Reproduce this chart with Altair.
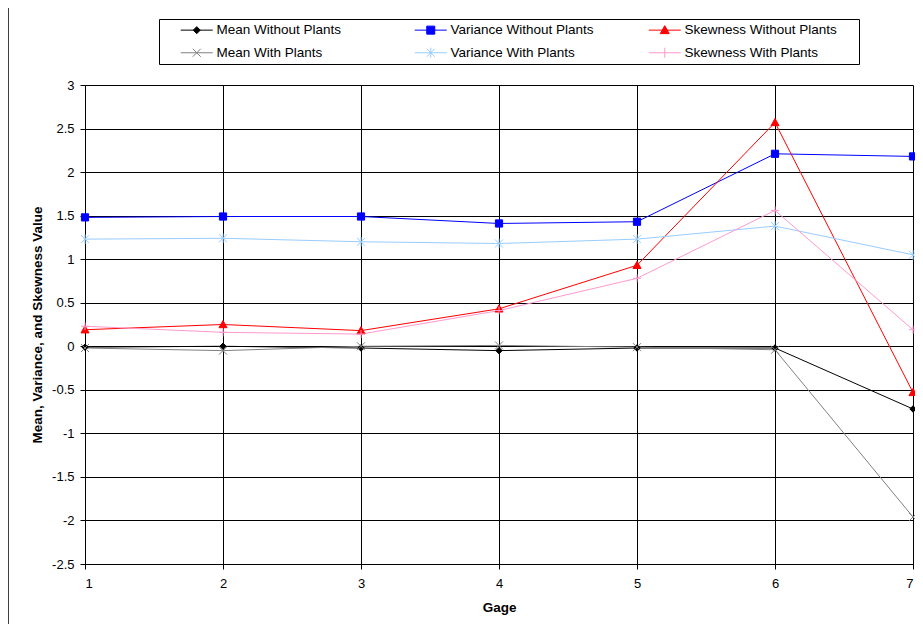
import altair as alt
import pandas as pd

gages = [1, 2, 3, 4, 5, 6, 7]

series_names = [
    "Mean Without Plants", "Variance Without Plants", "Skewness Without Plants",
    "Mean With Plants", "Variance With Plants", "Skewness With Plants",
]
series_colors = ["#000000", "#0000FF", "#FF0000", "#808080", "#99CCFF", "#FF99CC"]

mean_without = [-0.01, 0.00, -0.02, -0.05, -0.02, -0.02, -0.72]
variance_without = [1.48, 1.49, 1.49, 1.41, 1.43, 2.21, 2.18]
skewness_without = [0.19, 0.25, 0.18, 0.43, 0.93, 2.57, -0.53]
mean_with = [-0.02, -0.05, 0.00, 0.01, -0.01, -0.04, -1.96]
variance_with = [1.23, 1.24, 1.20, 1.18, 1.23, 1.38, 1.05]
skewness_with = [0.23, 0.16, 0.14, 0.41, 0.78, 1.56, 0.19]

values = [mean_without, variance_without, skewness_without,
          mean_with, variance_with, skewness_with]

rows = []
for name, vals in zip(series_names, values):
    for g, v in zip(gages, vals):
        rows.append({"Gage": g, "Value": v, "Series": name})
df = pd.DataFrame(rows)

# marker shapes (plot)
marker_paths = [
    "M0,-0.8L0.8,0L0,0.8L-0.8,0Z",            # diamond
    "M-0.9,-0.9H0.9V0.9H-0.9Z",               # square
    "M0,-1L1,0.8L-1,0.8Z",                     # triangle
    "M-1,-1L1,1M-1,1L1,-1",                    # x
    "M-1,-1L1,1M-1,1L1,-1M0,-1.2V1.2",         # asterisk
    "M-1,0H1M0,-1V1",                          # plus
]
# legend symbols: line + marker (leading move only reserves room on the right)
L = "M37.6,0M-3.2,0H3.2"
legend_paths_by_series = [
    L + "M0,-0.7L0.7,0L0,0.7L-0.7,0Z",
    L + "M-0.8,-0.8H0.8V0.8H-0.8Z",
    L + "M0,-0.9L0.9,0.7L-0.9,0.7Z",
    L + "M-0.8,-0.8L0.8,0.8M-0.8,0.8L0.8,-0.8",
    L + "M-0.8,-0.8L0.8,0.8M-0.8,0.8L0.8,-0.8M0,-1V1",
    L + "M0,-1V1",
]
# legend is filled column by column (2 rows x 3 columns)
legend_order = [0, 3, 1, 4, 2, 5]
legend_names = [series_names[i] for i in legend_order]
legend_colors = [series_colors[i] for i in legend_order]
legend_paths = [legend_paths_by_series[i] for i in legend_order]

W, H = 828, 479

x_enc = alt.X("Gage:Q", scale=alt.Scale(domain=[1, 7], nice=False),
              axis=alt.Axis(values=gages, format="d", title="Gage", tickSize=5,
                            labelPadding=8, titlePadding=10))
y_enc = alt.Y("Value:Q", scale=alt.Scale(domain=[-2.5, 3], nice=False),
              axis=alt.Axis(values=[-2.5 + 0.5 * i for i in range(12)],
                            labelExpr="datum.value < 0 ? '-' + format(-datum.value, '.1~f') : format(datum.value, '.1~f')",
                            title="Mean, Variance, and Skewness Value", tickSize=5,
                            labelPadding=6, titlePadding=7))

lines = alt.Chart(df).mark_line(strokeWidth=1, clip=False).encode(
    x=x_enc, y=y_enc,
    color=alt.Color("Series:N", scale=alt.Scale(domain=series_names, range=series_colors), legend=None),
    detail="Series:N",
)

points = alt.Chart(df).mark_point(size=64, opacity=1, strokeWidth=1, clip=False).encode(
    x=x_enc, y=y_enc,
    shape=alt.Shape("Series:N", scale=alt.Scale(domain=series_names, range=marker_paths), legend=None),
    fill=alt.Fill("Series:N", scale=alt.Scale(domain=series_names, range=series_colors), legend=None),
    stroke=alt.Stroke("Series:N", scale=alt.Scale(domain=series_names, range=series_colors), legend=None),
)

leg = alt.Legend(
    title=None, orient="none", legendX=74, legendY=-66, columns=3,
    symbolSize=100, symbolStrokeWidth=1, labelOffset=13, symbolOffset=27,
    labelFont="Liberation Sans", labelFontSize=13.5, labelColor="#000000",
    padding=4, columnPadding=10, rowPadding=8, gridAlign="all",
    strokeColor="#000000", fillColor="#FFFFFF",
)

legend_layer = alt.Chart(df).transform_filter("false").mark_point(opacity=1, strokeWidth=1).encode(
    x=x_enc, y=y_enc,
    shape=alt.Shape("Series:N", scale=alt.Scale(domain=legend_names, range=legend_paths), legend=leg),
    fill=alt.Fill("Series:N", scale=alt.Scale(domain=legend_names, range=legend_colors), legend=leg),
    stroke=alt.Stroke("Series:N", scale=alt.Scale(domain=legend_names, range=legend_colors), legend=leg),
)

frame = alt.Chart(pd.DataFrame({"a": [0]})).mark_rect(
    fill=None, stroke="#000000", strokeWidth=1.5, clip=False
).encode(
    x=alt.value(-77), x2=alt.value(W + 40), y=alt.value(-78), y2=alt.value(H + 120)
)

chart = alt.layer(frame, lines, points, legend_layer).resolve_scale(
    shape="independent", fill="independent", stroke="independent"
).properties(
    width=W, height=H,
    autosize=alt.AutoSizeParams(type="none"),
    padding={"left": 77, "top": 77, "right": 2, "bottom": 60},
).configure_view(stroke=None).configure_axis(
    labelFont="Liberation Sans", labelFontSize=13, labelColor="#000000",
    titleFont="Liberation Sans", titleFontSize=13.5, titleFontWeight="bold", titleColor="#000000",
    domainColor="#000000", tickColor="#000000", gridColor="#000000", gridOpacity=1,
    gridWidth=1, domainWidth=1, tickWidth=1,
)

chart.save("out.html", embed_options={"renderer": "svg", "actions": False})
